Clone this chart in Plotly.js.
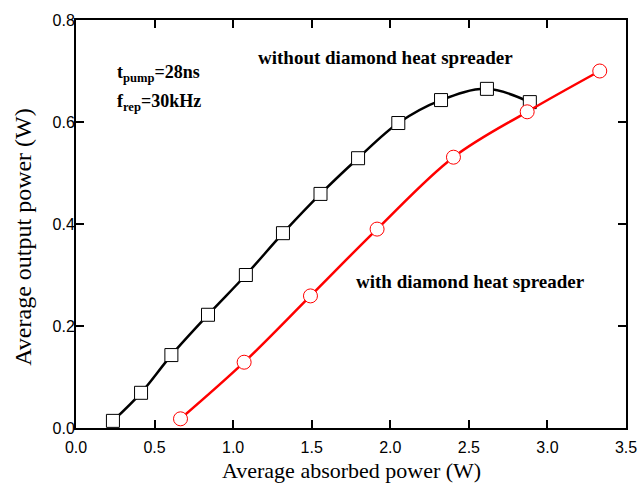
<!DOCTYPE html>
<html><head><meta charset="utf-8">
<script src="https://cdn.plot.ly/plotly-3.0.1.min.js"></script>
<style>body{margin:0;padding:0;background:#fff}#chart{width:641px;height:490px}</style>
</head><body><div id="chart"></div>
<script>
// Without diamond heat spreader
const xWithout = [0.235, 0.414, 0.607, 0.840, 1.081, 1.317, 1.556, 1.795, 2.051, 2.323, 2.615, 2.888];
const yWithout = [0.014, 0.069, 0.143, 0.222, 0.300, 0.382, 0.459, 0.529, 0.598, 0.643, 0.665, 0.639];
// With diamond heat spreader
const xWith = [0.665, 1.070, 1.492, 1.916, 2.402, 2.871, 3.333];
const yWith = [0.018, 0.129, 0.259, 0.390, 0.531, 0.620, 0.700];

const xTicks = [0.0, 0.5, 1.0, 1.5, 2.0, 2.5, 3.0, 3.5];
const yTicks = [0.0, 0.2, 0.4, 0.6, 0.8];

const serif = 'Liberation Serif';

const traces = [
  {x: xWithout, y: yWithout, type: 'scatter', mode: 'lines+markers',
   line: {color: '#000', width: 2.5, shape: 'spline', smoothing: 1},
   marker: {symbol: 'square', size: 13, color: '#fff', line: {color: '#000', width: 1}}},
  {x: xWith, y: yWith, type: 'scatter', mode: 'lines+markers',
   line: {color: '#ff0000', width: 2.5, shape: 'spline', smoothing: 1},
   marker: {symbol: 'circle', size: 14, color: '#fff', line: {color: '#ff0000', width: 1}}}
];

const axisCommon = {showgrid: false, zeroline: false, showline: true, mirror: 'ticks',
  linecolor: '#000', linewidth: 2, ticks: 'inside', ticklen: 8, tickwidth: 2, tickcolor: '#000',
  tickfont: {family: 'Liberation Sans', size: 16, color: '#000'}};

const layout = {
  width: 641, height: 490,
  margin: {l: 76, r: 15, t: 20, b: 62},
  paper_bgcolor: '#fff', plot_bgcolor: '#fff',
  showlegend: false,
  xaxis: Object.assign({}, axisCommon, {range: [0, 3.5], tickvals: xTicks,
    ticktext: xTicks.map(v => v.toFixed(1)), ticklabelstandoff: 4}),
  yaxis: Object.assign({}, axisCommon, {range: [0, 0.8], tickvals: yTicks,
    ticktext: yTicks.map(v => v.toFixed(1)), ticklabelstandoff: -4}),
  annotations: [
    {x: -0.097, y: 0.468, xref: 'paper', yref: 'paper', xanchor: 'center', yanchor: 'middle',
     textangle: -90, showarrow: false,
     text: 'Average output power (W)', font: {family: serif, size: 24, color: '#000'}},
    {x: 0.5, y: -0.105, xref: 'paper', yref: 'paper', xanchor: 'center', yanchor: 'middle',
     showarrow: false,
     text: 'Average absorbed power (W)', font: {family: serif, size: 22, color: '#000'}},
    {x: 1.967, y: 0.727, xref: 'x', yref: 'y', showarrow: false,
     text: '<b>without diamond heat spreader</b>', font: {family: serif, size: 19, color: '#000'}},
    {x: 2.508, y: 0.288, xref: 'x', yref: 'y', showarrow: false,
     text: '<b>with diamond heat spreader</b>', font: {family: serif, size: 19, color: '#000'}},
    {x: 0.245, y: 0.696, xref: 'x', yref: 'y', showarrow: false, xanchor: 'left',
     text: '<b>t<sub>pump</sub>=28ns</b>', font: {family: serif, size: 18, color: '#000'}},
    {x: 0.245, y: 0.638, xref: 'x', yref: 'y', showarrow: false, xanchor: 'left',
     text: '<b>f<sub>rep</sub>=30kHz</b>', font: {family: serif, size: 18, color: '#000'}}
  ]
};

Plotly.newPlot('chart', traces, layout, {displayModeBar: false, staticPlot: true});
</script></body></html>
